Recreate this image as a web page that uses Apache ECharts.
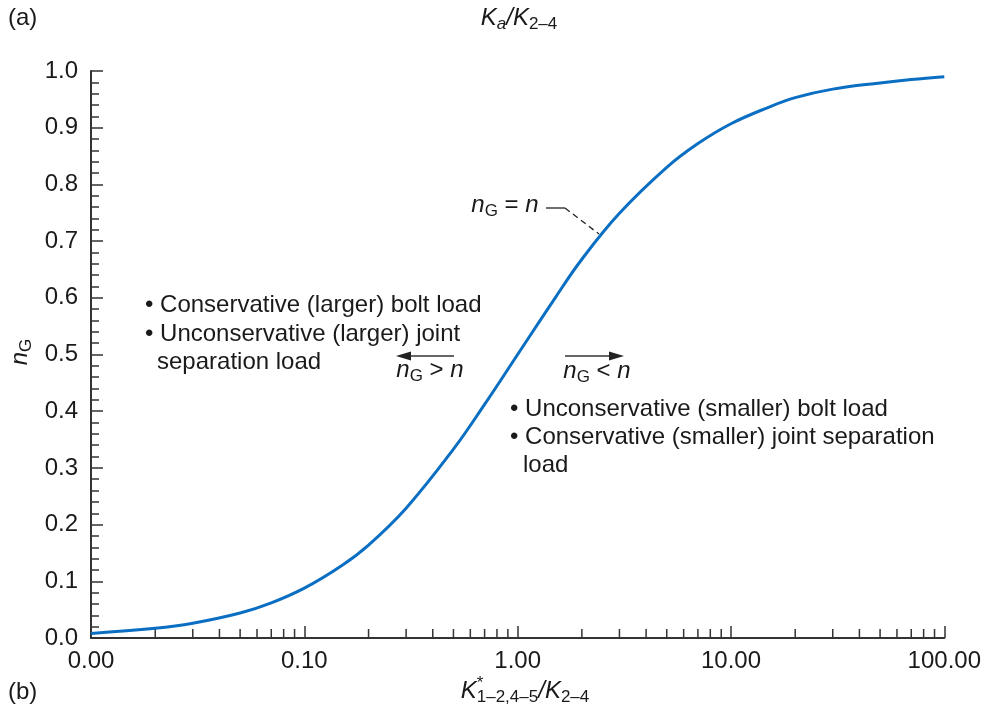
<!DOCTYPE html>
<html>
<head>
<meta charset="utf-8">
<script src="https://cdn.jsdelivr.net/npm/echarts@6/dist/echarts.min.js"></script>
<style>
  html, body { margin: 0; padding: 0; background: #fff; }
  #chart { width: 984px; height: 713px; }
</style>
</head>
<body>
<div id="chart"></div>
<script>
// 曲线数据
const ratioX = [0.01, 0.02, 0.03, 0.05, 0.07, 0.1, 0.15, 0.2, 0.3, 0.5, 0.7, 1, 1.5, 2, 3, 5, 7, 10, 15, 20, 30, 50, 70, 100]
const nG = [0.008, 0.017, 0.026, 0.044, 0.062, 0.088, 0.128, 0.164, 0.229, 0.333, 0.412, 0.5, 0.6, 0.668, 0.749, 0.83, 0.872, 0.907, 0.936, 0.953, 0.968, 0.979, 0.985, 0.99]

// 刻度
const xTickLabels = ['0.00', '0.10', '1.00', '10.00', '100.00']
const xMinorTicks = [0.02, 0.03, 0.04, 0.05, 0.06, 0.07, 0.08, 0.09,
  0.2, 0.3, 0.4, 0.5, 0.6, 0.7, 0.8, 0.9,
  2, 3, 4, 5, 6, 7, 8, 9,
  20, 30, 40, 50, 60, 70, 80, 90]

const FONT = '"Liberation Sans", Arial, sans-serif'
const INK = '#1a1a1a'
const AXIS = '#333'
const FS = 24

// 文字宽度测量
const measureCtx = document.createElement('canvas').getContext('2d')
const textWidth = (t, size, italic) => {
  measureCtx.font = (italic ? 'italic ' : '') + size + 'px ' + FONT
  return measureCtx.measureText(t).width
}

// 拼接带上下标的文字（按片段依次排列）
// piece: { t, it, s, dy, stack } stack=true 表示与下一片段共用起点
const formula = (pieces, cx, cy, rotation) => {
  let total = 0
  pieces.forEach(p => { if (!p.stack) total += textWidth(p.t, p.s, p.it) })
  let x = -total / 2
  const children = pieces.map(p => {
    const el = {
      type: 'text',
      x: x,
      y: p.dy || 0,
      style: {
        text: p.t,
        fill: INK,
        fontFamily: FONT,
        fontSize: p.s,
        fontStyle: p.it ? 'italic' : 'normal',
        align: 'left',
        verticalAlign: 'middle'
      }
    }
    if (!p.stack) x += textWidth(p.t, p.s, p.it)
    return el
  })
  return { type: 'group', x: cx, y: cy, rotation: rotation || 0, children }
}

const plain = (t, x, y, size) => ({
  type: 'text', x, y,
  style: { text: t, fill: INK, fontFamily: FONT, fontSize: size || FS, align: 'left', verticalAlign: 'middle' }
})

const arrow = (x1, x2, y) => {
  const dir = x2 > x1 ? 1 : -1
  return {
    type: 'group',
    children: [
      { type: 'line', shape: { x1, y1: y, x2: x2 - dir * 10, y2: y }, style: { stroke: '#333', lineWidth: 1.6 } },
      { type: 'polygon', shape: { points: [[x2, y], [x2 - dir * 15, y - 4.5], [x2 - dir * 15, y + 4.5]] }, style: { fill: '#222' } }
    ]
  }
}

const chart = echarts.init(document.getElementById('chart'), null, { renderer: 'canvas' })

const option = {
  animation: false,
  backgroundColor: '#fff',
  grid: { left: 91, right: 38, top: 71, bottom: 75 },
  xAxis: {
    type: 'log',
    logBase: 10,
    min: 0.01,
    max: 100,
    axisLine: { lineStyle: { color: AXIS, width: 2 } },
    axisTick: { inside: true, length: 12, lineStyle: { color: AXIS, width: 1.5 } },
    axisLabel: {
      margin: 11,
      color: INK,
      fontFamily: FONT,
      fontSize: FS,
      formatter: v => xTickLabels[Math.round(Math.log10(v)) + 2]
    },
    splitLine: { show: false }
  },
  yAxis: {
    type: 'value',
    min: 0,
    max: 1,
    interval: 0.1,
    axisLine: { show: true, lineStyle: { color: AXIS, width: 2 } },
    axisTick: { show: true, inside: true, length: 12, lineStyle: { color: AXIS, width: 1.5 } },
    minorTick: { show: true, splitNumber: 5, length: 8, lineStyle: { color: AXIS, width: 1.5 } },
    axisLabel: {
      margin: 13,
      color: INK,
      fontFamily: FONT,
      fontSize: FS,
      formatter: v => v.toFixed(1)
    },
    splitLine: { show: false }
  },
  series: [
    {
      name: 'nG',
      type: 'line',
      data: ratioX.map((x, i) => [x, nG[i]]),
      smooth: 0.4,
      showSymbol: false,
      lineStyle: { color: '#0a6fc2', width: 3 },
      z: 3
    },
    {
      // x 轴次刻度
      type: 'custom',
      data: xMinorTicks.map(v => [v, 0]),
      clip: false,
      silent: true,
      renderItem: (params, api) => {
        const p = api.coord([api.value(0), 0])
        return {
          type: 'line',
          shape: { x1: p[0], y1: p[1], x2: p[0], y2: p[1] - 9 },
          style: { stroke: AXIS, lineWidth: 1.5 }
        }
      },
      z: 2
    }
  ],
  graphic: [
    plain('(a)', 8, 18),
    plain('(b)', 8, 692),
    // 顶部标题 Ka/K2–4
    formula([
      { t: 'K', it: true, s: FS },
      { t: 'a', it: true, s: 17, dy: 6 },
      { t: '/', it: true, s: FS },
      { t: 'K', it: true, s: FS },
      { t: '2–4', s: 17, dy: 6 }
    ], 519, 18),
    // x 轴名称
    formula([
      { t: 'K', it: true, s: FS },
      { t: '*', s: 17, dy: -8, stack: true },
      { t: '1–2,4–5', s: 17, dy: 6 },
      { t: '/', it: true, s: FS },
      { t: 'K', it: true, s: FS },
      { t: '2–4', s: 17, dy: 6 }
    ], 525, 691),
    // y 轴名称
    formula([
      { t: 'n', it: true, s: FS },
      { t: 'G', s: 17, dy: 6 }
    ], 20, 352, Math.PI / 2),
    // 左侧说明
    plain('• Conservative (larger) bolt load', 145, 305),
    plain('• Unconservative (larger) joint', 145, 334),
    plain('separation load', 157, 362),
    // 右侧说明
    plain('• Unconservative (smaller) bolt load', 510, 409),
    plain('• Conservative (smaller) joint separation', 510, 437),
    plain('load', 523, 465),
    // 箭头
    arrow(454, 396, 356),
    formula([
      { t: 'n', it: true, s: FS },
      { t: 'G', s: 17, dy: 6 },
      { t: ' > ', s: FS },
      { t: 'n', it: true, s: FS }
    ], 430, 370),
    arrow(565, 624, 356),
    formula([
      { t: 'n', it: true, s: FS },
      { t: 'G', s: 17, dy: 6 },
      { t: ' < ', s: FS },
      { t: 'n', it: true, s: FS }
    ], 597, 371),
    // nG = n 标注
    formula([
      { t: 'n', it: true, s: FS },
      { t: 'G', s: 17, dy: 6 },
      { t: ' = ', s: FS },
      { t: 'n', it: true, s: FS }
    ], 505, 205),
    { type: 'line', shape: { x1: 546, y1: 208, x2: 565, y2: 208 }, style: { stroke: '#222', lineWidth: 1.3 } },
    { type: 'line', shape: { x1: 565, y1: 208, x2: 599, y2: 234 }, style: { stroke: '#222', lineWidth: 1.3, lineDash: [6, 4] } }
  ]
}

chart.setOption(option)
</script>
</body>
</html>
